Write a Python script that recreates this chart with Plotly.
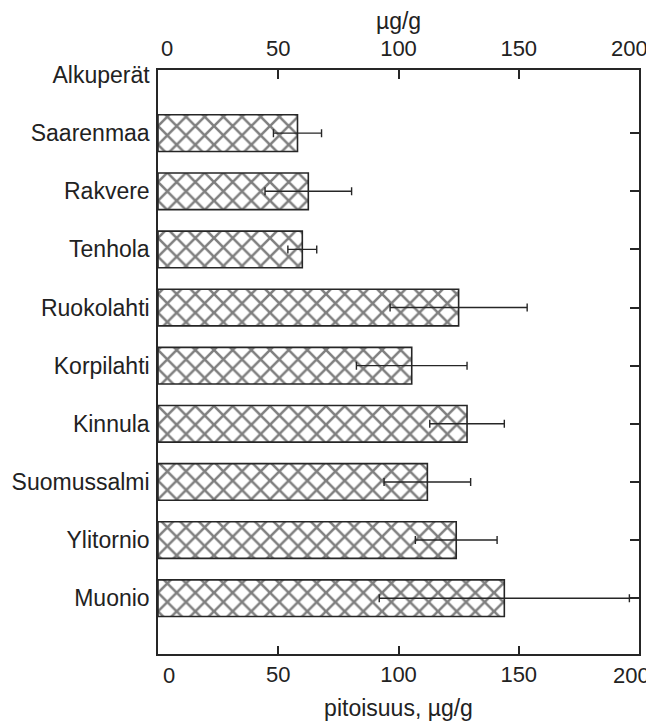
import plotly.graph_objects as go

categories = ["Alkuperät", "Saarenmaa", "Rakvere", "Tenhola", "Ruokolahti",
              "Korpilahti", "Kinnula", "Suomussalmi", "Ylitornio", "Muonio"]
bar_names = categories[1:]
means = [58, 62.5, 60, 125, 105.5, 128.5, 112, 124, 144]
errors = [10, 18, 6, 28.5, 23, 15.5, 18, 17, 52]
x_ticks = [0, 50, 100, 150, 200]
x_tick_labels = ["0", "50", "100", "150", "200"]

ink = "#262626"
fam = "Liberation Sans, Arial, sans-serif"
font = dict(family=fam, size=23, color="#222")
xtickfont = dict(family=fam, size=22, color="#222")

positions = [categories.index(n) for n in bar_names]
# end labels (0 and 200) are drawn as annotations, nudged inward like the original
inner_text = ["" if i in (0, len(x_ticks) - 1) else t for i, t in enumerate(x_tick_labels)]

fig = go.Figure()
fig.add_trace(go.Bar(
    x=means, y=positions, orientation="h", width=0.63,
    marker=dict(color="white", line=dict(color=ink, width=1.6),
                pattern=dict(shape="x", size=13.2, solidity=0.35,
                             fgcolor="#000000", bgcolor="white")),
    error_x=dict(type="data", array=errors, symmetric=True,
                 color=ink, thickness=1.4, width=4),
    showlegend=False, hoverinfo="skip",
))
fig.add_trace(go.Scatter(x=[0], y=[0], xaxis="x2", yaxis="y2", mode="markers",
                         marker=dict(opacity=0), showlegend=False, hoverinfo="skip"))

yrange = [9.96, -0.086]
xrange = [0, 200]
common = dict(showline=True, linecolor=ink, linewidth=1.5, showgrid=False,
              zeroline=False, automargin=False)

annotations = []
for val, lab, shift in [(x_ticks[0], x_tick_labels[0], 9), (x_ticks[-1], x_tick_labels[-1], -10)]:
    annotations.append(dict(x=val, xref="x", y=1, yref="paper", text=lab,
                            showarrow=False, font=xtickfont, xanchor="center",
                            yanchor="middle", xshift=shift, yshift=22))
    annotations.append(dict(x=val, xref="x", y=0, yref="paper", text=lab,
                            showarrow=False, font=xtickfont, xanchor="center",
                            yanchor="middle", xshift=shift + 2, yshift=-21))

# page body adds an 8px offset, so the figure is 8px smaller on each side
fig.update_layout(
    width=646, height=716,
    margin=dict(l=150, r=15, t=62, b=70),
    paper_bgcolor="white", plot_bgcolor="white",
    font=font,
    annotations=annotations,
    xaxis=dict(range=xrange, tickvals=x_ticks, ticktext=inner_text,
               ticks="inside", ticklen=8,
               tickwidth=1.5, tickcolor=ink, tickfont=xtickfont,
               title=dict(text="pitoisuus, µg/g", standoff=14, font=font),
               **common),
    xaxis2=dict(range=xrange, tickvals=x_ticks, ticktext=inner_text,
                ticks="inside", ticklen=9,
                tickwidth=1.5, tickcolor=ink, tickfont=xtickfont,
                overlaying="x", side="top", anchor="y", ticklabelstandoff=3,
                title=dict(text="µg/g", standoff=6, font=font), **common),
    yaxis=dict(range=yrange, tickvals=list(range(len(categories))),
               ticktext=categories, ticks="", tickfont=font,
               ticklabelstandoff=2, **common),
    yaxis2=dict(range=yrange, tickvals=positions, showticklabels=False,
                ticks="inside", ticklen=9, tickwidth=1.5, tickcolor=ink,
                overlaying="y", side="right", anchor="x", **common),
)

fig.write_html("out.html")
